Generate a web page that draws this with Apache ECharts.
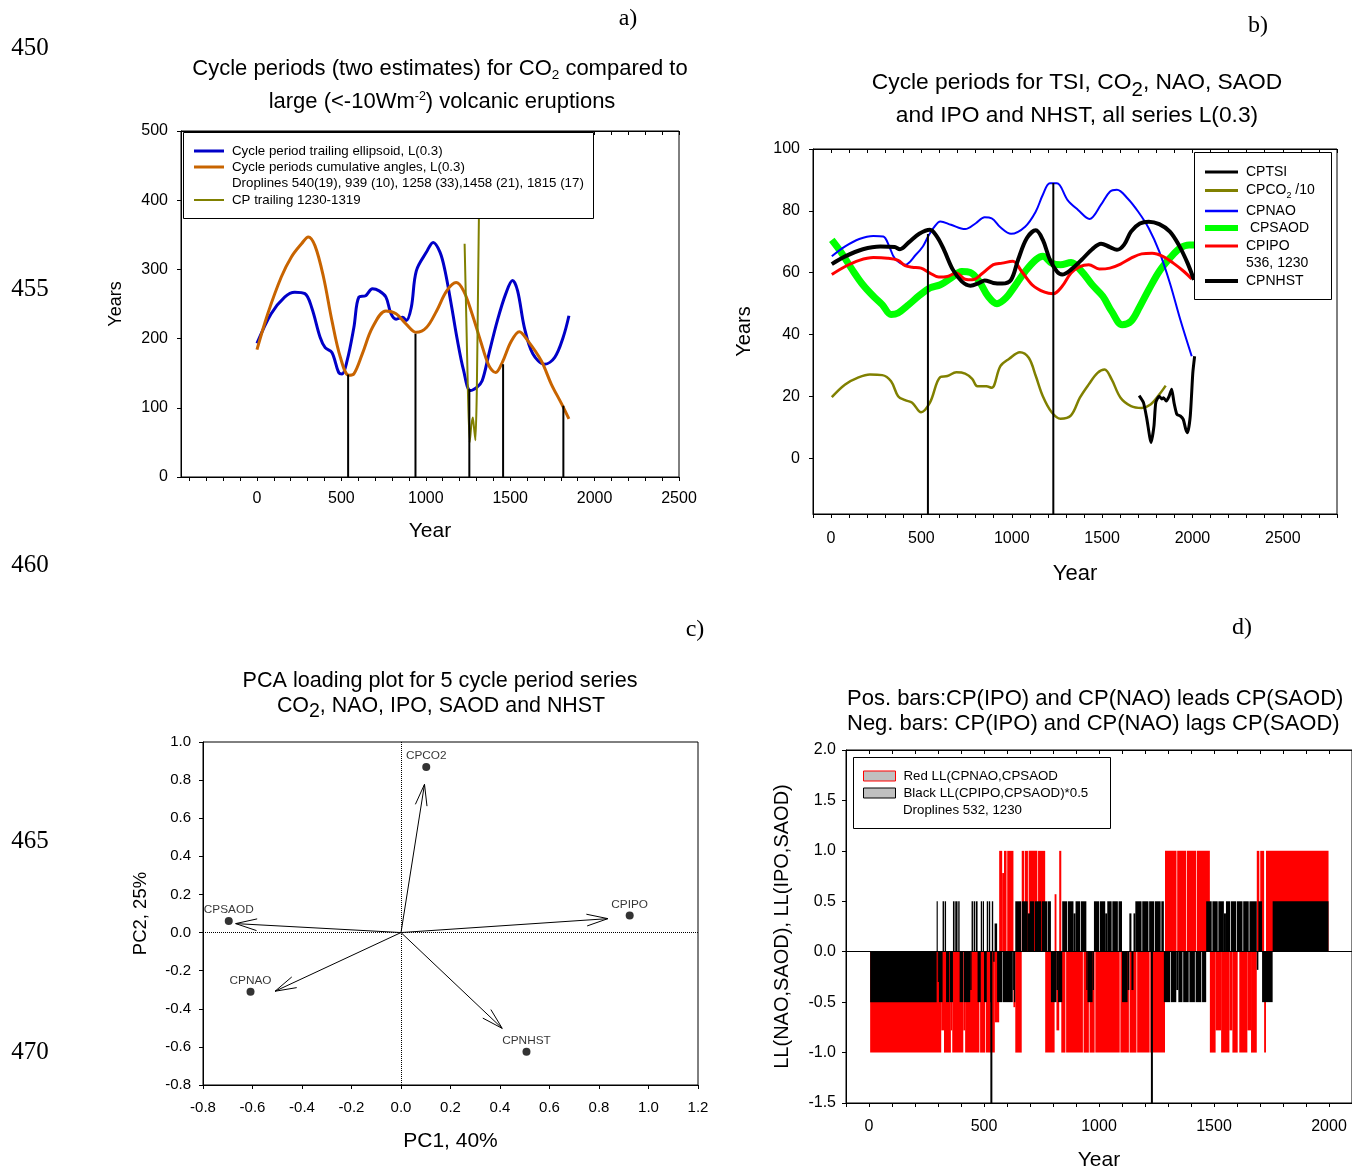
<!DOCTYPE html>
<html><head><meta charset="utf-8">
<script src="https://cdn.jsdelivr.net/npm/echarts@6/dist/echarts.min.js"></script>
<style>html,body{margin:0;padding:0;background:#fff}#c{width:1352px;height:1172px}</style>
</head><body><div id="c"></div>
<script>
// ---------------- DATA ----------------
// Panel a: cycle periods for CO2 (years)
const aEllipsoid = [[0,193],[84,236],[164,260],[224,267],[284,265],[324,245],[374,202],[404,187],[444,180],[484,151],[504,149],[534,168],[574,216],[604,260],[644,262],[684,272],[724,269],[764,260],[794,236],[824,228],[864,231],[884,226],[914,245],[944,298],[1004,325],[1044,339],[1084,325],[1114,298],[1154,245],[1184,202],[1224,154],[1264,125],[1304,130],[1334,139],[1374,178],[1424,226],[1474,265],[1514,284],[1544,269],[1584,216],[1634,178],[1704,163],[1764,173],[1814,202],[1848,233]];
const aAngles = [[0,184],[64,236],[144,289],[204,318],[264,337],[304,347],[344,334],[394,289],[444,226],[494,173],[544,147],[574,149],[624,178],[684,216],[764,240],[824,236],[884,221],[944,209],[1004,216],[1064,240],[1124,269],[1180,281],[1224,269],[1274,236],[1324,197],[1374,161],[1414,151],[1454,166],[1504,195],[1554,210],[1604,197],[1684,168],[1744,134],[1804,106],[1848,84]];
const aTrailing = [[1230,337],[1240,230],[1250,120],[1260,50],[1270,75],[1279,86],[1287,68],[1294,53],[1302,120],[1310,280],[1316,400],[1320,470]];
const aDrops = [[540,148],[939,207],[1258,127],[1458,163],[1815,103]];
const aXLabels = [0,500,1000,1500,2000,2500];
const aXTicks = [-400,-300,-200,-100,0,100,200,300,400,500,600,700,800,900,1000,1100,1200,1300,1400,1500,1600,1700,1800,1900,2000,2100,2200,2300,2400,2500];

// Panel b: cycle periods for TSI, CO2/10, NAO, SAOD, IPO, NHST
const bNAO = [[4,65.3],[78,68.5],[156,70.9],[234,71.9],[289,71.7],[322,68.5],[352,64.7],[410,62.6],[469,65.8],[508,68.5],[537,71.7],[566,74.4],[605,76.6],[664,75.5],[742,74.1],[801,76.0],[850,77.9],[889,77.6],[937,74.7],[996,72.6],[1074,74.9],[1133,79.8],[1172,85.2],[1211,88.9],[1250,88.9],[1309,83.5],[1367,80.3],[1430,77.4],[1494,82.0],[1543,86.2],[1582,86.8],[1640,84.1],[1699,79.8],[1758,74.4],[1816,66.9],[1875,56.7],[1933,44.8],[1996,33.0]];
const bNHST = [[4,62.8],[78,65.3],[176,67.6],[273,68.5],[352,68.3],[381,67.6],[430,69.8],[488,72.6],[547,73.9],[586,71.7],[625,67.4],[674,61.0],[723,57.2],[771,55.8],[820,56.7],[850,57.5],[898,56.7],[947,56.5],[996,57.7],[1035,64.2],[1084,71.2],[1133,73.7],[1172,70.6],[1211,64.2],[1250,60.4],[1279,59.4],[1328,61.0],[1387,64.2],[1445,67.6],[1494,69.4],[1543,68.3],[1582,67.4],[1621,69.0],[1660,73.3],[1709,75.9],[1758,76.5],[1816,75.7],[1875,73.3],[1924,69.0],[1973,63.1],[2008,57.7]];
const bSAOD = [[4,70.6],[59,66.3],[117,61.0],[176,56.1],[234,52.4],[283,49.7],[332,46.5],[371,47.0],[430,49.7],[488,52.6],[547,55.1],[605,56.1],[664,58.3],[723,60.4],[771,60.1],[820,57.2],[869,52.4],[918,50.0],[967,51.8],[1016,55.6],[1074,60.4],[1133,64.2],[1172,65.3],[1221,63.1],[1270,62.6],[1328,63.3],[1387,60.4],[1445,56.1],[1504,52.4],[1553,47.5],[1611,43.2],[1660,44.3],[1709,49.1],[1758,54.5],[1816,60.4],[1875,64.7],[1933,68.0],[1982,69.0],[2012,69.0]];
const bIPO = [[4,59.4],[78,62.0],[156,64.0],[234,64.9],[312,64.7],[371,64.0],[410,62.3],[449,61.8],[498,61.5],[547,59.9],[596,58.6],[644,58.8],[693,59.9],[742,57.9],[781,57.7],[840,59.9],[898,62.6],[947,63.1],[1006,63.7],[1055,60.4],[1113,56.1],[1182,53.7],[1230,53.2],[1279,55.6],[1328,59.9],[1377,62.0],[1426,62.6],[1484,61.2],[1543,61.5],[1602,62.8],[1660,64.7],[1719,66.1],[1777,66.3],[1836,65.3],[1894,63.1],[1953,60.4],[1996,58.0]];
const bCO2 = [[4,19.8],[78,23.9],[146,26.0],[215,27.1],[283,26.9],[332,24.9],[371,20.1],[410,18.8],[449,18.0],[498,14.9],[547,18.0],[605,26.3],[644,26.6],[693,27.8],[742,27.4],[781,25.7],[810,23.3],[859,23.3],[889,22.8],[937,29.8],[986,32.2],[1045,34.3],[1094,32.5],[1133,26.6],[1172,20.1],[1221,14.9],[1270,12.8],[1328,13.9],[1377,19.6],[1426,23.9],[1475,27.6],[1514,28.7],[1553,25.5],[1602,19.6],[1660,16.9],[1719,16.3],[1768,17.4],[1816,20.6],[1852,23.5]];
const bTSI = [[1705,20.3],[1729,18.0],[1748,12.6],[1771,5.1],[1787,10.4],[1797,18.0],[1816,20.1],[1830,19.2],[1840,19.6],[1855,18.5],[1871,20.1],[1885,22.3],[1898,18.0],[1914,14.2],[1933,13.7],[1949,12.6],[1963,9.4],[1973,8.3],[1988,13.7],[2002,27.6],[2012,33.0]];
const bDrops = [[536,72.5],[1230,89]];
const bXLabels = [0,500,1000,1500,2000,2500];
const bYLabels = [0,20,40,60,80,100];

// Panel c: PCA loadings
const cNames = ['CPCO2','CPSAOD','CPIPO','CPNAO','CPNHST'];
const cPoints = [[0.102,0.869],[-0.696,0.061],[0.924,0.089],[-0.608,-0.311],[0.507,-0.626]];
const cArrowTips = [[0.095,0.778],[-0.668,0.047],[0.836,0.073],[-0.509,-0.308],[0.409,-0.503]];

// Panel d: lead/lag runs [startYear, endYear, value]
const dRed = [[5,314,-1],[314,326,-0.78],[326,356,-1],[356,362,-0.78],[362,410,-1],[410,418,-0.78],[418,480,-1],[483,505,-1],[508,547,-1],[547,566,-0.7],[566,579,1],[579,587,0.78],[587,598,1],[601,628,1],[628,636,-0.55],[636,664,-1],[664,675,1],[678,691,1],[694,732,1],[735,766,1],[766,807,-1],[807,815,0.57],[815,827,-0.78],[827,836,1],[836,854,-1],[857,930,-1],[933,956,-1],[959,981,-1],[984,1090,-1],[1093,1130,-1],[1133,1163,-1],[1166,1220,-1],[1223,1287,-1],[1287,1337,1],[1340,1379,1],[1382,1423,1],[1426,1482,1],[1482,1507,-1],[1507,1531,-0.78],[1531,1567,-1],[1567,1580,-0.78],[1580,1603,-1],[1610,1645,-1],[1645,1661,-0.78],[1661,1686,-1],[1686,1697,1],[1701,1718,1],[1718,1726,-1],[1726,1998,1]];
const dBlack = [[5,294,-0.5],[294,299,0.5],[299,304,-0.3],[304,320,-0.5],[320,326,0.5],[329,335,0.5],[335,349,-0.5],[352,365,-0.5],[365,372,0.5],[375,385,0.5],[388,394,0.5],[394,410,-0.5],[413,440,-0.5],[440,446,-0.38],[446,452,0.5],[455,462,0.5],[465,472,0.5],[472,486,-0.5],[486,492,0.5],[495,500,0.5],[500,512,-0.5],[512,518,0.5],[521,527,0.5],[527,534,-0.5],[534,540,0.5],[540,546,-0.1],[546,557,0.28],[557,580,-0.5],[582,600,-0.5],[600,625,-0.5],[625,630,-0.38],[630,636,-0.5],[636,662,0.5],[665,690,0.5],[690,700,0.38],[700,718,0.5],[721,748,0.5],[751,775,0.5],[777,791,0.5],[791,815,-0.5],[815,822,-0.38],[822,840,-0.5],[840,862,0.5],[865,889,0.5],[889,898,0.38],[898,918,0.5],[921,945,0.5],[945,950,-0.38],[950,972,-0.5],[972,978,-0.38],[978,1001,0.5],[1004,1027,0.5],[1027,1036,0.38],[1036,1055,0.5],[1058,1082,0.5],[1085,1100,0.5],[1100,1124,-0.5],[1124,1132,-0.38],[1132,1141,0.38],[1141,1150,-0.38],[1150,1158,0.38],[1158,1185,0.5],[1188,1215,0.5],[1218,1240,0.5],[1243,1268,0.5],[1271,1282,0.5],[1282,1310,-0.5],[1313,1336,-0.5],[1336,1345,-0.38],[1345,1363,-0.5],[1366,1390,-0.5],[1393,1417,-0.5],[1420,1445,-0.5],[1448,1466,-0.5],[1466,1490,0.5],[1493,1516,0.5],[1519,1543,0.5],[1543,1552,0.38],[1552,1570,0.5],[1573,1597,0.5],[1600,1624,0.5],[1627,1651,0.5],[1654,1686,0.5],[1686,1693,-0.18],[1693,1709,0.5],[1709,1755,-0.5],[1755,1998,0.5]];
const dDrops = [[532,0],[1230,0]];
const dXLabels = [0,500,1000,1500,2000];

// ---------------- RENDER ----------------
const FONT = '"Liberation Sans", Arial, sans-serif';
const SERIF = '"Liberation Serif", "Times New Roman", serif';
const chart = echarts.init(document.getElementById('c'), null, {renderer:'canvas'});

function dropItem(width) {
  return function (params, api) {
    const cs = params.coordSys;
    const p = api.coord([api.value(0), api.value(1)]);
    return {type:'line', shape:{x1:p[0], y1:p[1], x2:p[0], y2:cs.y + cs.height}, style:{stroke:'#000', lineWidth:width}};
  };
}
function runItem(params, api) {
  const p0 = api.coord([api.value(0), 0]);
  const p1 = api.coord([api.value(1), api.value(2)]);
  const x = Math.min(p0[0], p1[0]);
  const w = Math.max(Math.abs(p1[0] - p0[0]), 1);
  const y = Math.min(p0[1], p1[1]);
  const h = Math.abs(p1[1] - p0[1]);
  return {type:'rect', shape:{x:x, y:y, width:w, height:h}, style:{fill: api.visual('color')}};
}
function arrowItem(params, api) {
  const o = api.coord([0, 0]);
  const t = api.coord([api.value(0), api.value(1)]);
  const ang = Math.atan2(t[1] - o[1], t[0] - o[0]);
  const L = 22, A = 0.27;
  const h1 = [t[0] - L * Math.cos(ang - A), t[1] - L * Math.sin(ang - A)];
  const h2 = [t[0] - L * Math.cos(ang + A), t[1] - L * Math.sin(ang + A)];
  return {type:'group', children:[
    {type:'line', shape:{x1:o[0], y1:o[1], x2:t[0], y2:t[1]}, style:{stroke:'#000', lineWidth:1}},
    {type:'polyline', shape:{points:[h1, t, h2]}, style:{stroke:'#000', fill:null, lineWidth:1}}
  ]};
}

const blk = {color:'#000'};
function plain(v) { return String(v); }
function fmt1(v) { return Math.abs(v) < 1e-9 ? '0.0' : v.toFixed(1); }
function xAx(grid, min, max, opt) {
  return Object.assign({
    gridIndex:grid, type:'value', min:min, max:max, position:'bottom',
    axisLine:{show:true, onZero:false, lineStyle:blk},
    axisTick:{show:true, length:4, lineStyle:blk},
    axisLabel:{color:'#000', fontFamily:FONT, fontSize:16},
    splitLine:{show:false},
    nameLocation:'middle', nameTextStyle:{color:'#000', fontFamily:FONT}
  }, opt);
}
function topAx(grid, min, max, tickOpt) {
  return {gridIndex:grid, type:'value', min:min, max:max, position:'top',
    axisLine:{show:true, onZero:false, lineStyle:blk},
    axisTick:Object.assign({show:true, inside:true, length:4, lineStyle:blk}, tickOpt),
    axisLabel:{show:false}, splitLine:{show:false}, interval: tickOpt.interval};
}
function yAx(grid, min, max, opt) {
  return Object.assign({
    gridIndex:grid, type:'value', min:min, max:max,
    axisLine:{show:true, onZero:false, lineStyle:blk},
    axisTick:{show:true, length:4, lineStyle:blk},
    axisLabel:{color:'#000', fontFamily:FONT, fontSize:16},
    splitLine:{show:false},
    nameLocation:'middle', nameRotate:90, nameTextStyle:{color:'#000', fontFamily:FONT}
  }, opt);
}

function legendRow(name, left, cy, iw, ih, fs, itemStyle, extra) {
  return Object.assign({
    data:[{name:name, icon:'rect', itemStyle:Object.assign({borderWidth:0}, itemStyle)}],
    left:left, top:cy - 8, padding:0, itemWidth:iw, itemHeight:ih, orient:'vertical',
    selectedMode:false, z:60,
    textStyle:{fontFamily:FONT, fontSize:fs, color:'#000', lineHeight:16, padding:[0,0,0,3]}
  }, extra || {});
}
const clear = {color:'rgba(0,0,0,0)'};
const gridBox = {show:true, borderColor:'#000', borderWidth:1, backgroundColor:'rgba(0,0,0,0)'};

const option = {
  animation:false,
  backgroundColor:'#fff',
  textStyle:{fontFamily:FONT},
  grid:[
    Object.assign({left:181, top:131, width:498, height:346}, gridBox),
    Object.assign({left:813, top:149, width:524, height:365}, gridBox),
    Object.assign({left:203, top:742, width:495, height:343}, gridBox),
    Object.assign({left:846, top:750, width:510, height:354}, gridBox)
  ],
  xAxis:[
    xAx(0, -450, 2500, {axisTick:{show:true, length:4, lineStyle:blk, customValues:aXTicks}, axisLabel:{color:'#000', fontFamily:FONT, fontSize:16, margin:14, customValues:aXLabels, formatter:plain}, name:'Year', nameGap:44, nameTextStyle:{color:'#000', fontFamily:FONT, fontSize:21}}),
    topAx(0, -450, 2500, {customValues:aXTicks}),
    xAx(1, -100, 2800, {interval:100, axisLabel:{color:'#000', fontFamily:FONT, fontSize:16, margin:17, customValues:bXLabels, formatter:plain}, name:'Year', nameGap:49, nameTextStyle:{color:'#000', fontFamily:FONT, fontSize:22}}),
    topAx(1, -100, 2800, {interval:100}),
    xAx(2, -0.8, 1.2, {interval:0.2, axisLabel:{color:'#000', fontFamily:FONT, fontSize:15, margin:15, formatter:fmt1}, name:'PC1, 40%', nameGap:46, nameTextStyle:{color:'#000', fontFamily:FONT, fontSize:21}}),
    xAx(3, -100, 2100, {interval:100, axisLabel:{color:'#000', fontFamily:FONT, fontSize:16, margin:16, customValues:dXLabels, formatter:plain}, name:'Year', nameGap:47, nameTextStyle:{color:'#000', fontFamily:FONT, fontSize:21}}),
    topAx(3, -100, 2100, {interval:100})
  ],
  yAxis:[
    yAx(0, 0, 500, {interval:100, axisLabel:{color:'#000', fontFamily:FONT, fontSize:16, margin:13}, name:'Years', nameGap:56, nameTextStyle:{color:'#000', fontFamily:FONT, fontSize:18}}),
    yAx(1, -18, 100, {axisTick:{show:true, length:4, lineStyle:blk, customValues:bYLabels}, axisLabel:{color:'#000', fontFamily:FONT, fontSize:16, margin:13, customValues:bYLabels, formatter:plain}, name:'Years', nameGap:59, nameTextStyle:{color:'#000', fontFamily:FONT, fontSize:20}}),
    yAx(2, -0.8, 1.0, {interval:0.2, axisLabel:{color:'#000', fontFamily:FONT, fontSize:15, margin:12, formatter:fmt1}, name:'PC2, 25%', nameGap:53, nameTextStyle:{color:'#000', fontFamily:FONT, fontSize:18.5}}),
    yAx(3, -1.5, 2.0, {interval:0.5, axisLabel:{color:'#000', fontFamily:FONT, fontSize:16, margin:10, formatter:fmt1}, name:'LL(NAO,SAOD), LL(IPO,SAOD)', nameGap:54, nameTextStyle:{color:'#000', fontFamily:FONT, fontSize:20}})
  ],
  series:[
    // panel a
    {name:'Cycle period trailing ellipsoid, L(0.3)', type:'line', xAxisIndex:0, yAxisIndex:0, data:aEllipsoid, smooth:0.35, showSymbol:false, symbol:'none', lineStyle:{color:'#0000c8', width:3}, itemStyle:{color:'#0000c8'}, z:3},
    {name:'Cycle periods cumulative angles, L(0.3)', type:'line', xAxisIndex:0, yAxisIndex:0, data:aAngles, smooth:0.35, showSymbol:false, symbol:'none', lineStyle:{color:'#c86400', width:3}, itemStyle:{color:'#c86400'}, z:3},
    {name:'CP trailing 1230-1319', type:'line', xAxisIndex:0, yAxisIndex:0, data:aTrailing, smooth:0.2, showSymbol:false, symbol:'none', lineStyle:{color:'#808000', width:2}, itemStyle:{color:'#808000'}, z:3},
    {name:'Droplines 540(19), 939 (10), 1258 (33),1458 (21), 1815 (17)', type:'custom', xAxisIndex:0, yAxisIndex:0, data:aDrops, encode:{x:0, y:1}, renderItem:dropItem(2), itemStyle:{color:'#000'}, z:4, clip:true},
    // panel b
    {name:' CPSAOD', type:'line', xAxisIndex:2, yAxisIndex:1, data:bSAOD, smooth:0.35, showSymbol:false, symbol:'none', lineStyle:{color:'#00ff00', width:7}, itemStyle:{color:'#00ff00'}, z:2},
    {name:'CPNAO', type:'line', xAxisIndex:2, yAxisIndex:1, data:bNAO, smooth:0.35, showSymbol:false, symbol:'none', lineStyle:{color:'#0000ff', width:2}, itemStyle:{color:'#0000ff'}, z:3},
    {name:'CPIPO', type:'line', xAxisIndex:2, yAxisIndex:1, data:bIPO, smooth:0.35, showSymbol:false, symbol:'none', lineStyle:{color:'#ff0000', width:3}, itemStyle:{color:'#ff0000'}, z:3},
    {name:'CPCO2 /10', type:'line', xAxisIndex:2, yAxisIndex:1, data:bCO2, smooth:0.35, showSymbol:false, symbol:'none', lineStyle:{color:'#808000', width:2.5}, itemStyle:{color:'#808000'}, z:3},
    {name:'CPNHST', type:'line', xAxisIndex:2, yAxisIndex:1, data:bNHST, smooth:0.35, showSymbol:false, symbol:'none', lineStyle:{color:'#000', width:4}, itemStyle:{color:'#000'}, z:4},
    {name:'CPTSI', type:'line', xAxisIndex:2, yAxisIndex:1, data:bTSI, smooth:0.2, showSymbol:false, symbol:'none', lineStyle:{color:'#000', width:3}, itemStyle:{color:'#000'}, z:4},
    {name:'536, 1230', type:'custom', xAxisIndex:2, yAxisIndex:1, data:bDrops, encode:{x:0, y:1}, renderItem:dropItem(2), itemStyle:{color:'#000'}, z:5, clip:true},
    // panel c
    {name:'pcaArrows', type:'custom', xAxisIndex:4, yAxisIndex:2, data:cArrowTips, encode:{x:0, y:1}, renderItem:arrowItem, z:3},
    {name:'pcaPoints', type:'scatter', xAxisIndex:4, yAxisIndex:2, symbolSize:8, itemStyle:{color:'#000'},
      data:cPoints.map(function (p, i) { return {name:cNames[i], value:p}; }),
      label:{show:true, position:'top', distance:1, formatter:'{b}', fontFamily:FONT, fontSize:11.8, color:'#000'},
      markLine:{silent:true, symbol:'none', label:{show:false}, lineStyle:{type:'dotted', color:'#000', width:1}, data:[{xAxis:0},{yAxis:0}]}, z:4},
    // panel d
    {name:'Red LL(CPNAO,CPSAOD', type:'custom', xAxisIndex:5, yAxisIndex:3, data:dRed, encode:{x:[0,1], y:2}, renderItem:runItem, itemStyle:{color:'#ff0000'}, z:2, clip:true},
    {name:'Black LL(CPIPO,CPSAOD)*0.5', type:'custom', xAxisIndex:5, yAxisIndex:3, data:dBlack, encode:{x:[0,1], y:2}, renderItem:runItem, itemStyle:{color:'#000'}, z:3, clip:true},
    {name:'zeroLine', type:'line', xAxisIndex:5, yAxisIndex:3, data:[], markLine:{silent:true, symbol:'none', label:{show:false}, lineStyle:{type:'solid', color:'#000', width:1}, data:[{yAxis:0}]}, z:4},
    {name:'Droplines 532, 1230', type:'custom', xAxisIndex:5, yAxisIndex:3, data:dDrops, encode:{x:0, y:1}, renderItem:dropItem(2), itemStyle:{color:'#000'}, z:5, clip:true}
  ],
  legend:[
    // panel a
    legendRow('Cycle period trailing ellipsoid, L(0.3)', 194, 151, 30, 3, 13.3, {color:'#0000c8'}),
    legendRow('Cycle periods cumulative angles, L(0.3)', 194, 167, 30, 3, 13.3, {color:'#c86400'}),
    legendRow('Droplines 540(19), 939 (10), 1258 (33),1458 (21), 1815 (17)', 194, 183, 30, 3, 13.3, clear),
    legendRow('CP trailing 1230-1319', 194, 200, 30, 2, 13.3, {color:'#808000'}),
    // panel b
    legendRow('CPTSI', 1205, 172, 33, 3, 14, {color:'#000'}),
    legendRow('CPCO2 /10', 1205, 189, 33, 3, 14, {color:'#808000'}, {formatter:function () { return '{t|CPCO}{s|2}{t| /10}'; },
      textStyle:{fontFamily:FONT, fontSize:14, color:'#000', lineHeight:16, padding:[0,0,0,3], rich:{t:{fontFamily:FONT, fontSize:14, lineHeight:16}, s:{fontFamily:FONT, fontSize:9, lineHeight:4, padding:[10,0,0,0]}}}}),
    legendRow('CPNAO', 1205, 211, 33, 2.5, 14, {color:'#0000ff'}),
    legendRow(' CPSAOD', 1205, 228, 33, 6, 14, {color:'#00ff00'}),
    legendRow('CPIPO', 1205, 246, 33, 3, 14, {color:'#ff0000'}),
    legendRow('536, 1230', 1205, 263, 33, 3, 14, clear),
    legendRow('CPNHST', 1205, 281, 33, 4, 14, {color:'#000'}),
    // panel d
    legendRow('Red LL(CPNAO,CPSAOD', 863, 776, 32, 10, 13.3, {color:'#c0c0c0', borderColor:'#ff0000', borderWidth:1}),
    legendRow('Black LL(CPIPO,CPSAOD)*0.5', 863, 793, 32, 10, 13.3, {color:'#c0c0c0', borderColor:'#000', borderWidth:1}),
    legendRow('Droplines 532, 1230', 863, 810, 32, 10, 13.3, clear)
  ],
  graphic:{elements:[
    // legend boxes
    {type:'rect', z:50, shape:{x:183.5, y:132.5, width:410, height:86}, style:{fill:'#fff', stroke:'#000', lineWidth:1}},
    {type:'rect', z:50, shape:{x:1194.5, y:152.5, width:137, height:147}, style:{fill:'#fff', stroke:'#000', lineWidth:1}},
    {type:'rect', z:50, shape:{x:853.5, y:757.5, width:257, height:71}, style:{fill:'#fff', stroke:'#000', lineWidth:1}},
    // line numbers
    {type:'text', z:100, x:30, y:48, style:{text:'450', font:'25px ' + SERIF, fill:'#000', textAlign:'center', textVerticalAlign:'middle'}},
    {type:'text', z:100, x:30, y:289, style:{text:'455', font:'25px ' + SERIF, fill:'#000', textAlign:'center', textVerticalAlign:'middle'}},
    {type:'text', z:100, x:30, y:565, style:{text:'460', font:'25px ' + SERIF, fill:'#000', textAlign:'center', textVerticalAlign:'middle'}},
    {type:'text', z:100, x:30, y:841, style:{text:'465', font:'25px ' + SERIF, fill:'#000', textAlign:'center', textVerticalAlign:'middle'}},
    {type:'text', z:100, x:30, y:1052, style:{text:'470', font:'25px ' + SERIF, fill:'#000', textAlign:'center', textVerticalAlign:'middle'}},
    // panel letters
    {type:'text', z:100, x:628, y:19, style:{text:'a)', font:'24px ' + SERIF, fill:'#000', textAlign:'center', textVerticalAlign:'middle'}},
    {type:'text', z:100, x:1258, y:26, style:{text:'b)', font:'24px ' + SERIF, fill:'#000', textAlign:'center', textVerticalAlign:'middle'}},
    {type:'text', z:100, x:695, y:630, style:{text:'c)', font:'24px ' + SERIF, fill:'#000', textAlign:'center', textVerticalAlign:'middle'}},
    {type:'text', z:100, x:1242, y:628, style:{text:'d)', font:'24px ' + SERIF, fill:'#000', textAlign:'center', textVerticalAlign:'middle'}},
    // titles
    {type:'text', z:100, x:440, y:69, style:{text:'{n|Cycle periods (two estimates) for CO}{s|2}{n| compared to}', textAlign:'center', textVerticalAlign:'middle',
      rich:{n:{fontFamily:FONT, fontSize:22, lineHeight:24, fill:'#000'}, s:{fontFamily:FONT, fontSize:13.5, lineHeight:4, padding:[12,0,0,0], fill:'#000'}}}},
    {type:'text', z:100, x:442, y:102, style:{text:'{n|large (<-10Wm}{p|-2}{n|) volcanic eruptions}', textAlign:'center', textVerticalAlign:'middle',
      rich:{n:{fontFamily:FONT, fontSize:22, lineHeight:24, fill:'#000'}, p:{fontFamily:FONT, fontSize:12.5, verticalAlign:'top', fill:'#000'}}}},
    {type:'text', z:100, x:1077, y:83, style:{text:'{n|Cycle periods for TSI, CO}{s|2}{n|, NAO, SAOD}', textAlign:'center', textVerticalAlign:'middle',
      rich:{n:{fontFamily:FONT, fontSize:22.8, lineHeight:26, fill:'#000'}, s:{fontFamily:FONT, fontSize:20.5, lineHeight:4, padding:[14,0,0,0], fill:'#000'}}}},
    {type:'text', z:100, x:1077, y:116, style:{text:'and IPO and NHST, all series L(0.3)', font:'22.8px ' + FONT, fill:'#000', textAlign:'center', textVerticalAlign:'middle'}},
    {type:'text', z:100, x:440, y:681, style:{text:'PCA loading plot for 5 cycle period series', font:'21.6px ' + FONT, fill:'#000', textAlign:'center', textVerticalAlign:'middle'}},
    {type:'text', z:100, x:441, y:706, style:{text:'{n|CO}{s|2}{n|, NAO, IPO, SAOD and NHST}', textAlign:'center', textVerticalAlign:'middle',
      rich:{n:{fontFamily:FONT, fontSize:21.4, lineHeight:24, fill:'#000'}, s:{fontFamily:FONT, fontSize:19.5, lineHeight:4, padding:[12,0,0,0], fill:'#000'}}}},
    {type:'text', z:100, x:847, y:699, style:{text:'Pos. bars:CP(IPO) and CP(NAO) leads CP(SAOD)', font:'22px ' + FONT, fill:'#000', textAlign:'left', textVerticalAlign:'middle'}},
    {type:'text', z:100, x:847, y:724, style:{text:'Neg. bars: CP(IPO) and CP(NAO) lags CP(SAOD)', font:'22px ' + FONT, fill:'#000', textAlign:'left', textVerticalAlign:'middle'}}
  ]}
};
chart.setOption(option);
</script></body></html>
